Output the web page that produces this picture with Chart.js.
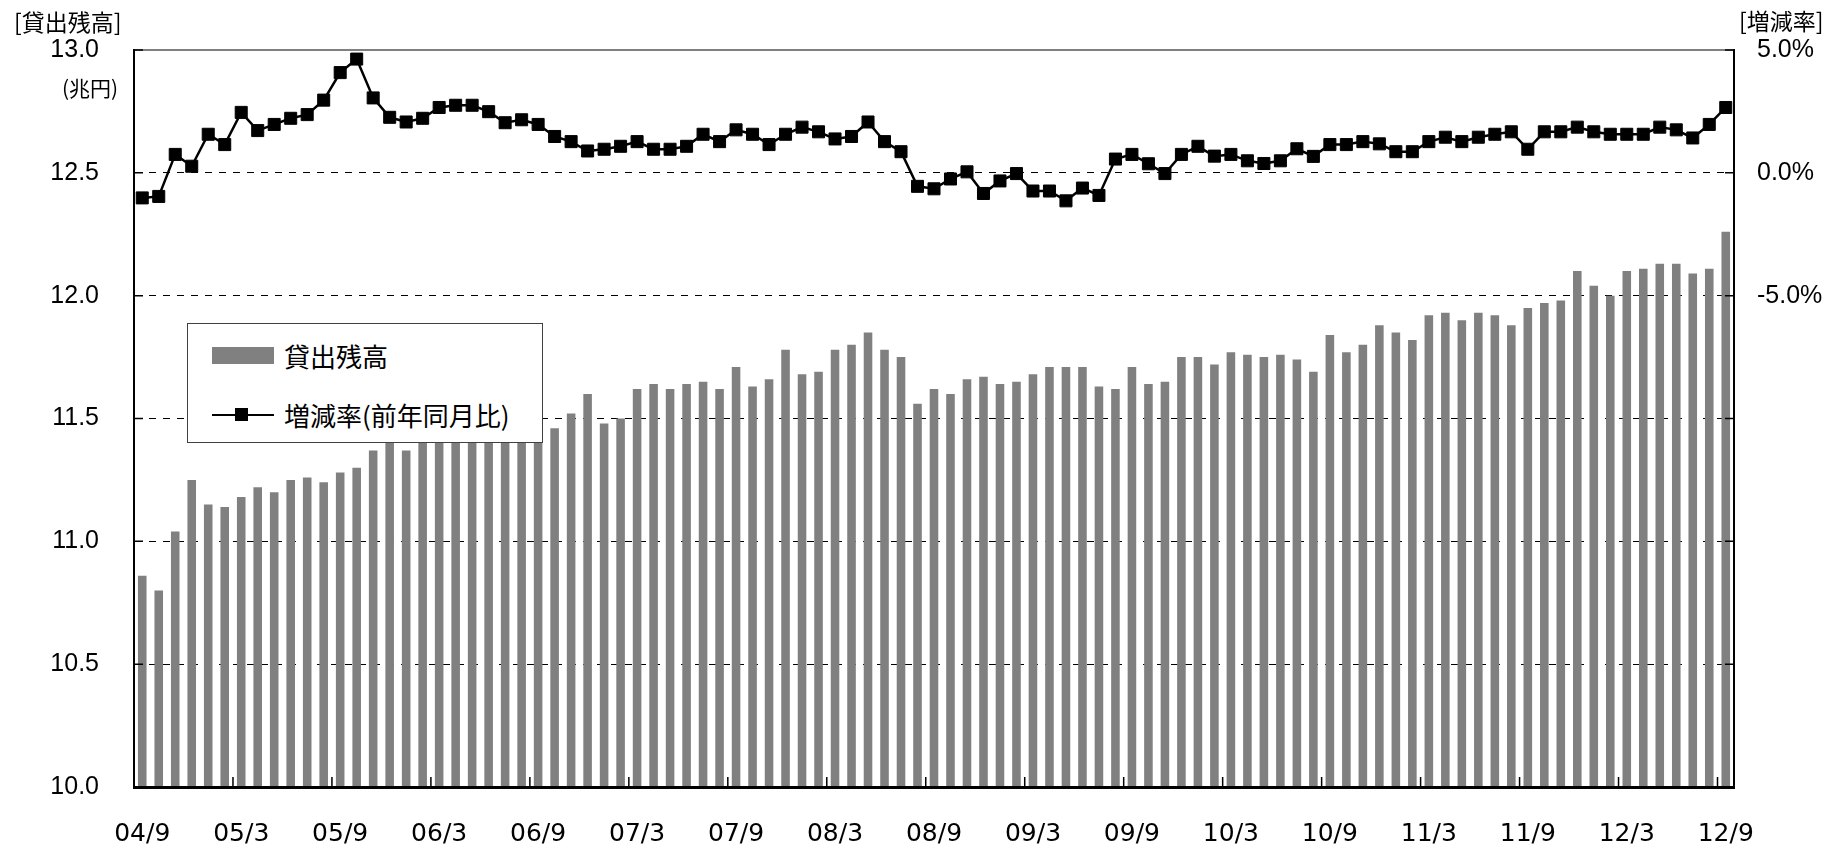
<!DOCTYPE html>
<html>
<head>
<meta charset="utf-8">
<script src="https://cdn.jsdelivr.net/npm/chart.js@4/dist/chart.umd.min.js"></script>
<style>
  body { margin: 0; background: #fff; }
  #wrap { position: relative; width: 1842px; height: 849px; }
  .lbl { position: absolute; font-family: 'Noto Sans CJK JP', sans-serif; color: #000; white-space: nowrap; }
  #legend { position: absolute; left: 187px; top: 323px; width: 354px; height: 118px;
            background: #fff; border: 1.5px solid #404040; }
  .item { position: absolute; left: 96px; font-family: 'Noto Sans CJK JP', sans-serif; font-size: 26px; line-height: 26px; }
</style>
</head>
<body>
<div id="wrap">
  <canvas id="c"></canvas>
  <div class="lbl" style="left:14px; top:10px; font-size:23px; line-height:23px;">[貸出残高]</div>
  <div class="lbl" style="left:62px; top:77px; font-size:21px; line-height:21px;">(兆円)</div>
  <div class="lbl" style="left:1739px; top:9px; font-size:23px; line-height:23px;">[増減率]</div>
  <div id="legend">
    <div style="position:absolute; left:24px; top:23px; width:62px; height:17px; background:#808080;"></div>
    <div class="item" style="top:19px;">貸出残高</div>
    <div style="position:absolute; left:24px; top:90px; width:62px; height:2px; background:#000;"></div>
    <div style="position:absolute; left:47px; top:84px; width:13px; height:13px; background:#000;"></div>
    <div class="item" style="top:78px;">増減率(前年同月比)</div>
  </div>
</div>
<script>
// months 04/9 .. 12/9
const months = [
  '04/9','04/10','04/11','04/12',
  '05/1','05/2','05/3','05/4','05/5','05/6','05/7','05/8','05/9','05/10','05/11','05/12',
  '06/1','06/2','06/3','06/4','06/5','06/6','06/7','06/8','06/9','06/10','06/11','06/12',
  '07/1','07/2','07/3','07/4','07/5','07/6','07/7','07/8','07/9','07/10','07/11','07/12',
  '08/1','08/2','08/3','08/4','08/5','08/6','08/7','08/8','08/9','08/10','08/11','08/12',
  '09/1','09/2','09/3','09/4','09/5','09/6','09/7','09/8','09/9','09/10','09/11','09/12',
  '10/1','10/2','10/3','10/4','10/5','10/6','10/7','10/8','10/9','10/10','10/11','10/12',
  '11/1','11/2','11/3','11/4','11/5','11/6','11/7','11/8','11/9','11/10','11/11','11/12',
  '12/1','12/2','12/3','12/4','12/5','12/6','12/7','12/8','12/9'
];
const tickLabels = ['04/9','05/3','05/9','06/3','06/9','07/3','07/9','08/3','08/9',
  '09/3','09/9','10/3','10/9','11/3','11/9','12/3','12/9'];

// 貸出残高 (兆円)
const balance = [
  10.86,10.80,11.04,11.25,
  11.15,11.14,11.18,11.22,11.20,11.25,11.26,11.24,11.28,11.30,11.37,11.40,
  11.37,11.40,11.41,11.42,11.43,11.41,11.42,11.43,11.44,11.46,11.52,11.60,
  11.48,11.50,11.62,11.64,11.62,11.64,11.65,11.62,11.71,11.63,11.66,11.78,
  11.68,11.69,11.78,11.80,11.85,11.78,11.75,11.56,11.62,11.60,11.66,11.67,
  11.64,11.65,11.68,11.71,11.71,11.71,11.63,11.62,11.71,11.64,11.65,11.75,
  11.75,11.72,11.77,11.76,11.75,11.76,11.74,11.69,11.84,11.77,11.80,11.88,
  11.85,11.82,11.92,11.93,11.90,11.93,11.92,11.88,11.95,11.97,11.98,12.10,
  12.04,12.00,12.10,12.11,12.13,12.13,12.09,12.11,12.26
];

// 増減率 (前年同月比, %)
const growth = [
  -1.02,-0.96,0.75,0.27,
  1.57,1.15,2.46,1.72,1.97,2.22,2.37,2.96,4.08,4.63,3.05,2.26,
  2.07,2.22,2.66,2.75,2.75,2.49,2.04,2.16,1.97,1.48,1.27,0.89,
  0.96,1.08,1.27,0.96,0.96,1.08,1.57,1.27,1.75,1.57,1.15,1.57,
  1.86,1.67,1.38,1.48,2.07,1.27,0.86,-0.55,-0.65,-0.25,0.04,-0.84,
  -0.33,-0.03,-0.74,-0.74,-1.14,-0.62,-0.92,0.56,0.75,0.37,-0.03,0.75,
  1.08,0.68,0.75,0.49,0.38,0.49,0.98,0.67,1.15,1.15,1.27,1.18,
  0.86,0.86,1.27,1.45,1.27,1.45,1.57,1.67,0.96,1.67,1.67,1.86,
  1.67,1.57,1.57,1.57,1.86,1.75,1.42,1.97,2.66
];

Chart.defaults.font.family = "'Liberation Sans', 'Noto Sans CJK JP', sans-serif";
Chart.defaults.color = '#000';

// top frame line + short inward tick marks
const frame = {
  id: 'frame',
  afterDatasetsDraw(chart) {
    const {ctx, chartArea: a, scales: {x, y, y1}} = chart;
    const half = (x.getPixelForValue(1) - x.getPixelForValue(0)) / 2;
    ctx.save();
    ctx.strokeStyle = '#808080';
    ctx.lineWidth = 2;
    ctx.beginPath();
    ctx.moveTo(a.left, a.top);
    ctx.lineTo(a.right, a.top);
    ctx.stroke();
    ctx.strokeStyle = '#000';
    ctx.lineWidth = 1.5;
    ctx.beginPath();
    months.forEach((m, i) => {
      if (!tickLabels.includes(m)) return;
      const px = x.getPixelForValue(i) - half;
      ctx.moveTo(px, a.bottom);
      ctx.lineTo(px, a.bottom - 10);
    });
    y.ticks.forEach(t => {
      const py = y.getPixelForValue(t.value);
      ctx.moveTo(a.left, py);
      ctx.lineTo(a.left + 9, py);
    });
    y1.ticks.forEach(t => {
      const py = y1.getPixelForValue(t.value);
      ctx.moveTo(a.right, py);
      ctx.lineTo(a.right - 9, py);
    });
    ctx.stroke();
    ctx.restore();
  }
};

new Chart(document.getElementById('c'), {
  data: {
    labels: months,
    datasets: [
      {
        type: 'line',
        label: '増減率(前年同月比)',
        data: growth,
        yAxisID: 'y1',
        order: 0,
        borderColor: '#000',
        borderWidth: 2.5,
        tension: 0,
        pointStyle: 'rect',
        pointRadius: 8.5,
        pointBorderWidth: 1,
        pointBackgroundColor: '#000',
        pointBorderColor: '#000'
      },
      {
        type: 'bar',
        label: '貸出残高',
        data: balance,
        yAxisID: 'y',
        order: 1,
        backgroundColor: '#808080',
        barPercentage: 0.52,
        categoryPercentage: 1
      }
    ]
  },
  options: {
    responsive: true,
    maintainAspectRatio: false,
    animation: false,
    layout: { padding: { top: 43.5, left: 0, right: 0, bottom: 0 } },
    plugins: { legend: { display: false }, tooltip: { enabled: false } },
    scales: {
      x: {
        grid: { display: false, drawTicks: false },
        border: { display: true, color: '#000', width: 3, z: 1 },
        ticks: {
          autoSkip: false,
          maxRotation: 0,
          padding: 32,
          font: { family: "'DejaVu Sans', sans-serif", size: 25 },
          callback: (v, i) => tickLabels.includes(months[i]) ? months[i] : ''
        },
        afterFit: s => { s.height = 62; }
      },
      y: {
        position: 'left',
        min: 10, max: 13,
        ticks: { stepSize: 0.5, padding: 35, font: { size: 25 }, callback: v => v.toFixed(1) },
        grid: {
          drawTicks: false,
          lineWidth: 1,
          color: c => (c.tick && (c.tick.value === 10 || c.tick.value === 13)) ? 'rgba(0,0,0,0)' : '#000'
        },
        border: { display: true, color: '#000', width: 2, dash: [7, 7], z: 1 },
        afterFit: s => { s.width = 134; }
      },
      y1: {
        position: 'right',
        min: -25, max: 5,
        ticks: { stepSize: 5, padding: 23, font: { size: 25 }, callback: v => v >= -5 ? v.toFixed(1) + '%' : '' },
        grid: { display: false, drawTicks: false },
        border: { display: true, color: '#000', width: 2, z: 1 },
        afterFit: s => { s.width = 108; }
      }
    }
  },
  plugins: [frame]
});
</script>
</body>
</html>
